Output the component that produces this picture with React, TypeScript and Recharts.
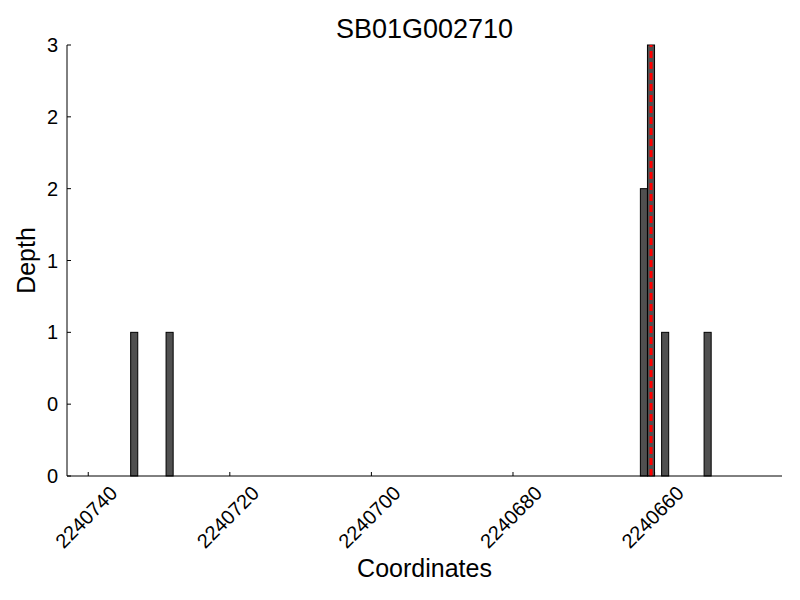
import { BarChart, Bar, XAxis, YAxis, ReferenceLine, Label } from 'recharts';

// depth bins (start coordinate of each 1bp bin)
const binStarts = [2240734, 2240729, 2240662, 2240661, 2240659, 2240653];
const depths = [1, 1, 2, 3, 1, 1];

const xTicks = [2240740, 2240720, 2240700, 2240680, 2240660];
const yTicks = [0, 0.5, 1, 1.5, 2, 2.5, 3];
const yTickLabels = ['0', '0', '1', '1', '2', '2', '3'];

const xDomain = [2240642, 2240743];
const snpPosition = 2240660.5;

const TITLE = 'SB01G002710';
const FONT = '"Liberation Sans", Arial, Helvetica, sans-serif';

const W = 800;
const H = 600;
const MARGIN = { top: 45, right: 18, left: 0, bottom: 0 };
const Y_AXIS_W = 67;
const X_AXIS_H = 124;

// bars span [start - 1, start], centre them in the bin
const data = binStarts.map((s, i) => ({ pos: s - 0.5, depth: depths[i] }));

const plotWidth = W - MARGIN.left - MARGIN.right - Y_AXIS_W;
const binWidth = plotWidth / (xDomain[1] - xDomain[0]);

// full 1bp wide bar, centred on the position recharts gives
function BinBar(props: any) {
  const { x, y, width, height } = props;
  const cx = x + width / 2;
  return (
    <rect
      x={cx - binWidth / 2}
      y={y}
      width={binWidth}
      height={height}
      fill="#505050"
      stroke="#000"
      strokeWidth={1}
    />
  );
}

function XTick(props: any) {
  const { x, y, payload } = props;
  return (
    <g>
      <line x1={x} x2={x} y1={y} y2={y - 4} stroke="#000" strokeWidth={1} />
      <text
        x={x - 2}
        y={y + 41}
        textAnchor="middle"
        dominantBaseline="central"
        transform={`rotate(-45, ${x - 2}, ${y + 41})`}
        fontSize={20}
        fontFamily={FONT}
        fill="#000"
      >
        {payload.value}
      </text>
    </g>
  );
}

function YTick(props: any) {
  const { x, y, index } = props;
  return (
    <g>
      <line x1={x} x2={x + 4} y1={y} y2={y} stroke="#000" strokeWidth={1} />
      <text
        x={x - 9}
        y={y}
        textAnchor="end"
        dominantBaseline="central"
        fontSize={20}
        fontFamily={FONT}
        fill="#000"
      >
        {yTickLabels[index]}
      </text>
    </g>
  );
}

export default function App() {
  return (
    <div style={{ position: 'absolute', left: 0, top: 0, width: W, height: H, background: '#fff', fontFamily: FONT }}>
      <div
        style={{
          position: 'absolute',
          left: Y_AXIS_W,
          width: plotWidth,
          top: 12,
          textAlign: 'center',
          fontSize: 27,
          lineHeight: '34px',
          color: '#000',
        }}
      >
        {TITLE}
      </div>
      <BarChart width={W} height={H} data={data} margin={MARGIN} barCategoryGap={0} barGap={0}>
        <XAxis
          dataKey="pos"
          type="number"
          domain={xDomain}
          reversed
          ticks={xTicks}
          interval={0}
          height={X_AXIS_H}
          tickSize={0}
          tickMargin={0}
          tickLine={false}
          axisLine={{ stroke: '#000', strokeWidth: 1 }}
          tick={<XTick />}
        >
          <Label
            content={(p: any) => {
              const vb = p.viewBox;
              return (
                <text
                  x={vb.x + vb.width / 2}
                  y={vb.y + 101}
                  textAnchor="middle"
                  fontSize={25}
                  fontFamily={FONT}
                  fill="#000"
                >
                  Coordinates
                </text>
              );
            }}
          />
        </XAxis>
        <YAxis
          type="number"
          domain={[0, 3]}
          ticks={yTicks}
          interval={0}
          width={Y_AXIS_W}
          tickSize={0}
          tickMargin={0}
          tickLine={false}
          axisLine={{ stroke: '#000', strokeWidth: 1 }}
          tick={<YTick />}
        >
          <Label
            content={(p: any) => {
              const vb = p.viewBox;
              const cx = 26;
              const cy = vb.y + vb.height / 2;
              return (
                <text
                  x={cx}
                  y={cy}
                  textAnchor="middle"
                  dominantBaseline="central"
                  transform={`rotate(-90, ${cx}, ${cy})`}
                  fontSize={25}
                  fontFamily={FONT}
                  fill="#000"
                >
                  Depth
                </text>
              );
            }}
          />
        </YAxis>
        <Bar
          dataKey="depth"
          fill="#505050"
          stroke="#000"
          strokeWidth={1}
          shape={<BinBar />}
          isAnimationActive={false}
        />
        <ReferenceLine
          x={snpPosition}
          stroke="#ff0000"
          strokeWidth={3}
          strokeDasharray="7 4"
          ifOverflow="extendDomain"
        />
      </BarChart>
    </div>
  );
}
